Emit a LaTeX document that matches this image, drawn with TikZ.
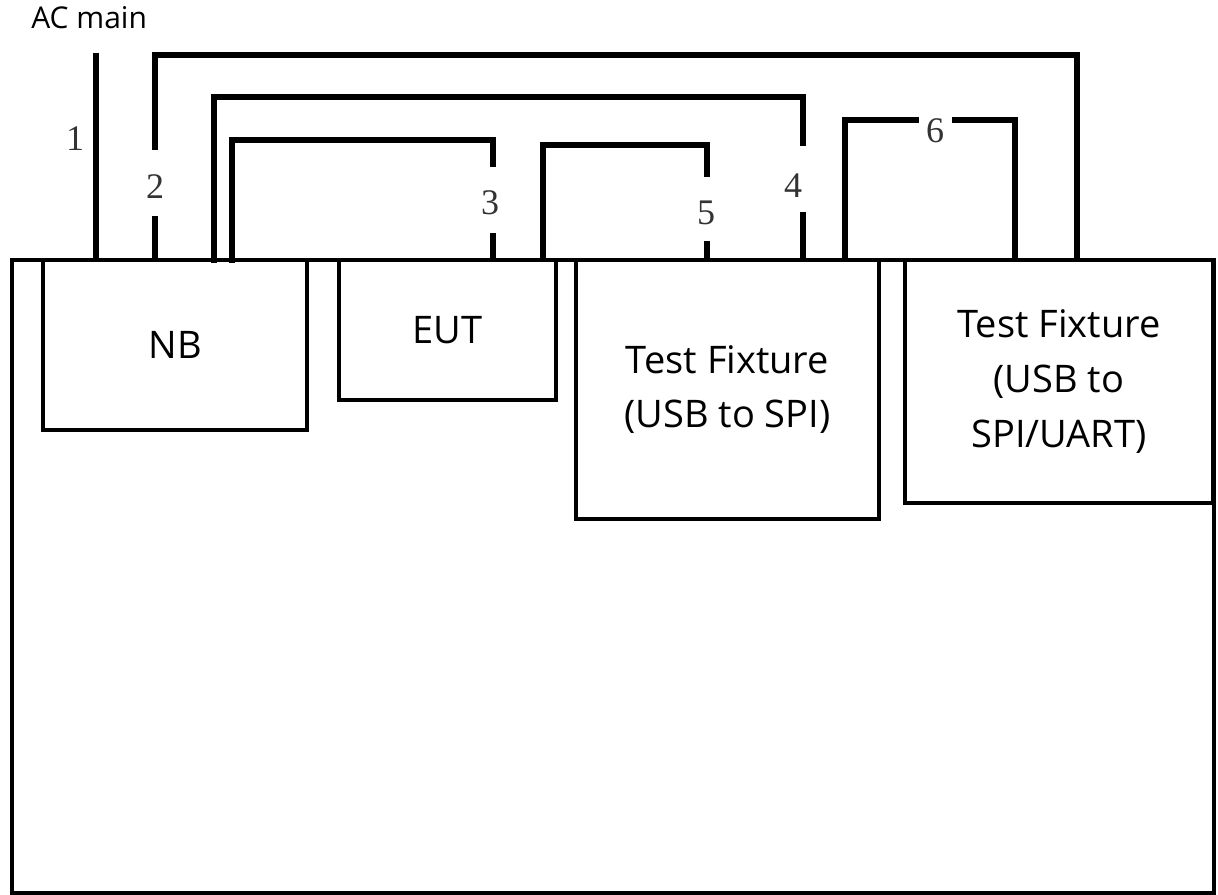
\documentclass[tikz,border=0pt]{standalone}
\usepackage{fontspec}
\setmainfont{Open Sans}
\newfontfamily\numfont{Liberation Serif}
\begin{document}
\begin{tikzpicture}[x=0.75pt,y=-0.75pt,
  wire/.style={line width=5pt, line join=miter, line cap=butt},
  boxline/.style={draw, line width=3.2pt, rectangle, inner sep=0pt, align=center,
     font=\fontsize{28.5}{41}\selectfont},
  numlabel/.style={inner sep=0pt, text=black!80, font=\numfont\fontsize{27}{27}\selectfont}]
\useasboundingbox (0,0) rectangle (1218,895);
\fill[white] (0,0) rectangle (1218,895);
% table
\node[boxline, minimum width=901.5pt, minimum height=474.75pt] (table) at (613,576.5) {};
% boxes
\node[boxline, minimum width=198pt, minimum height=127.5pt] (nb) at (175,345) {NB};
\node[boxline, minimum width=162.75pt, minimum height=105pt] (eut) at (447.5,330) {EUT};
\node[boxline, minimum width=227.25pt, minimum height=194.25pt] (tf1) at (727.5,389.5) {Test Fixture\\(USB to SPI)};
\node[boxline, minimum width=231pt, minimum height=182.25pt] (tf2) at (1059,381.5) {Test Fixture\\(USB to\\SPI/UART)};
% text
\node[anchor=base west, inner sep=0pt, font=\fontsize{22.5}{22.5}\selectfont] (ac) at (31,29) {AC main};
% connection points
\coordinate (nb1) at (96,261);
\coordinate (acm) at (96,53);
\coordinate (nb2) at (155,261);
\coordinate (tf2b) at (1077,261);
\coordinate (nb4) at (214,263);
\coordinate (tf1d) at (803,261);
\coordinate (nb3) at (232,263);
\coordinate (eut3) at (493,261);
\coordinate (eut5) at (543,261);
\coordinate (tf1c) at (707,261);
\coordinate (tf1e) at (845,261);
\coordinate (tf2a) at (1015,261);
% wire 1
\draw[wire] (nb1) -- (acm);
\node[numlabel] (l1) at (75,139) {1};
% wire 2
\draw[wire] (nb2) -- (155,216);
\draw[wire] (155,150) -- (155,55) -- (1077,55) -- (tf2b);
\node[numlabel] (l2) at (155,187) {2};
% wire 4
\draw[wire] (nb4) -- (214,97) -- (803,97) -- (803,146);
\draw[wire] (803,212) -- (tf1d);
\node[numlabel] (l4) at (793,186) {4};
% wire 3
\draw[wire] (nb3) -- (232,140) -- (493,140) -- (493,167);
\draw[wire] (493,233) -- (eut3);
\node[numlabel] (l3) at (490,203) {3};
% wire 5
\draw[wire] (eut5) -- (543,145) -- (707,145) -- (707,177);
\draw[wire] (707,241) -- (tf1c);
\node[numlabel] (l5) at (706,213) {5};
% wire 6
\draw[wire] (tf1e) -- (845,120) -- (919,120);
\draw[wire] (952,120) -- (1015,120) -- (tf2a);
\node[numlabel] (l6) at (935,131) {6};
\end{tikzpicture}
\end{document}
